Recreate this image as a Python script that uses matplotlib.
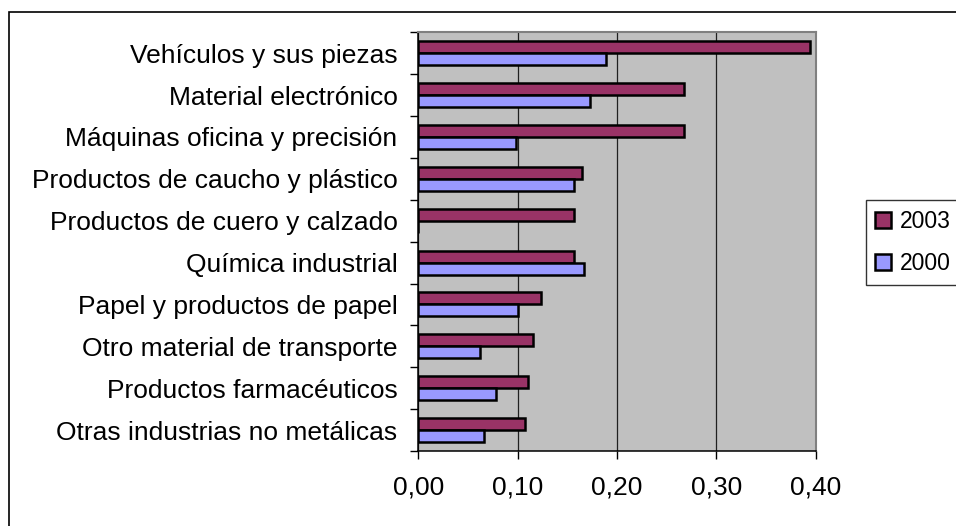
import numpy as np
import matplotlib
matplotlib.use("Agg")
import matplotlib.pyplot as plt
from matplotlib.patches import Rectangle

# ================= DATA =================

categories = [
    "Vehículos y sus piezas",
    "Material electrónico",
    "Máquinas oficina y precisión",
    "Productos de caucho y plástico",
    "Productos de cuero y calzado",
    "Química industrial",
    "Papel y productos de papel",
    "Otro material de transporte",
    "Productos farmacéuticos",
    "Otras industrias no metálicas",
]
vals_2003 = [0.394, 0.267, 0.267, 0.165, 0.157, 0.157, 0.123, 0.115, 0.110, 0.107]
vals_2000 = [0.189, 0.173, 0.098, 0.157, 0.0, 0.167, 0.100, 0.062, 0.078, 0.066]
xticks = [0.0, 0.1, 0.2, 0.3, 0.4]
xtick_labels = ["0,00", "0,10", "0,20", "0,30", "0,40"]

# ================= STYLE =================

plt.rcParams["font.family"] = ["Liberation Sans", "DejaVu Sans"]
C_2003 = "#993366"
C_2000 = "#9999FF"
C_BG = "#C0C0C0"

W, H = 956, 526
fig = plt.figure(figsize=(W / 100, H / 100), dpi=100)
ax = fig.add_axes([418.3 / W, 1 - 451 / H, (815.7 - 418.3) / W, (451 - 32.3) / H])
ax.set_facecolor(C_BG)

y = np.arange(len(categories))
h = 0.286
ax.barh(y - h / 2, vals_2003, height=h, color=C_2003, edgecolor="black",
        linewidth=1.8, label="2003", zorder=3)
ax.barh(y + h / 2, vals_2000, height=h, color=C_2000, edgecolor="black",
        linewidth=1.8, label="2000", zorder=3)

ax.set_xlim(0, 0.4)
ax.set_ylim(len(categories) - 0.5, -0.5)
ax.set_xticks(xticks)
ax.set_xticklabels(xtick_labels, fontsize=19)
# category separators as major ticks, names on minor ticks between them
ax.set_yticks(np.arange(len(categories) + 1) - 0.5)
ax.set_yticklabels([])
ax.set_yticks(y, minor=True)
ax.set_yticklabels(categories, minor=True, fontsize=19)
ax.tick_params(axis="y", which="minor", length=0, pad=15)
ax.tick_params(axis="y", which="major", length=6, width=1, direction="out")
ax.tick_params(axis="x", length=6, width=1, direction="out", pad=12)

ax.grid(True, axis="x", color="#202020", linewidth=0.9, zorder=1)
for side in ("left", "bottom"):
    ax.spines[side].set_color("black")
    ax.spines[side].set_linewidth(1.1)
for side in ("top", "right"):
    ax.spines[side].set_color("#808080")
    ax.spines[side].set_linewidth(1.5)

# outer chart frame
fig.patches.append(Rectangle((9 / W, -0.1), 1.2, 1.1 - 12 / H,
                             transform=fig.transFigure, fill=False,
                             edgecolor="black", linewidth=1.2))

leg = fig.legend(loc="upper left", bbox_to_anchor=(865.7 / W, 1 - 200 / H),
                 fontsize=16.5, frameon=True, fancybox=False, shadow=False,
                 handlelength=0.7, handleheight=0.7, handletextpad=0.35,
                 labelspacing=0.85, borderpad=0.42, borderaxespad=0)
leg.get_frame().set_edgecolor("black")
leg.get_frame().set_linewidth(1.0)

fig.savefig("out.png", dpi=100)
